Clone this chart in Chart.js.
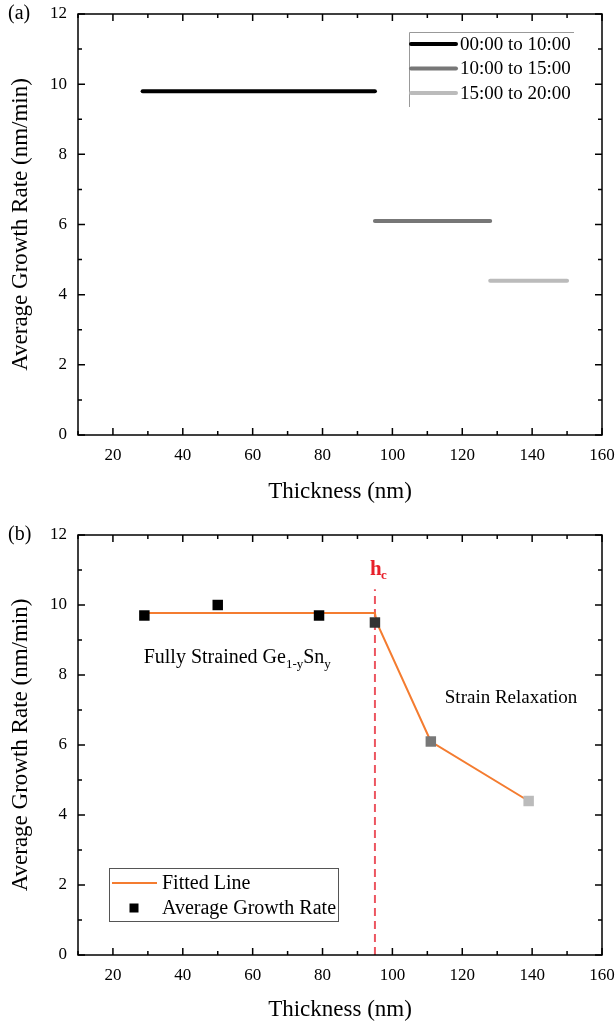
<!DOCTYPE html>
<html>
<head>
<meta charset="utf-8">
<script src="https://cdn.jsdelivr.net/npm/chart.js@4.4.1/dist/chart.umd.min.js"></script>
<style>
  html, body { margin: 0; padding: 0; background: #fff; }
  .panel { position: relative; width: 616px; height: 513px; }
</style>
</head>
<body>
<div class="panel"><canvas id="chartA" width="616" height="513"></canvas></div>
<div class="panel"><canvas id="chartB" width="616" height="513"></canvas></div>
<script>
// (a) growth periods: thickness range grown in each period and its rate
var periodLabels = ['00:00 to 10:00', '10:00 to 15:00', '15:00 to 20:00'];
var periodStart = [28.5, 95, 128];
var periodEnd = [95, 128, 150];
var periodRate = [9.8, 6.1, 4.4];
var periodColors = ['#000000', '#777777', '#bbbbbb'];

// (b) average growth rate vs thickness
var thickness = [29, 50, 79, 95, 111, 139];
var avgRate = [9.7, 10.0, 9.7, 9.5, 6.1, 4.4];
var pointColors = ['#000000', '#000000', '#000000', '#333333', '#777777', '#bbbbbb'];
var fitX = [29, 95, 95.5, 111, 139];
var fitY = [9.77, 9.77, 9.5, 6.1, 4.4];
var criticalThickness = 95;

// axis ticks
var xTickValues = [20, 40, 60, 80, 100, 120, 140, 160];
var xMinorValues = [10, 30, 50, 70, 90, 110, 130, 150];
var yTickValues = [0, 2, 4, 6, 8, 10, 12];
var yMinorValues = [1, 3, 5, 7, 9, 11];

var serif = "'Liberation Serif', 'Times New Roman', serif";
Chart.defaults.font.family = serif;
Chart.defaults.color = '#000';

function makeScales(xHeight) {
  return {
    x: {
      type: 'linear', min: 10, max: 160,
      afterBuildTicks: function(s) { s.ticks = xTickValues.map(function(v) { return {value: v}; }); },
      afterFit: function(s) { s.height = xHeight; s.paddingLeft = 0; s.paddingRight = 0; },
      grid: { display: false, drawTicks: false },
      border: { display: false },
      ticks: { font: { size: 17 }, padding: 10, maxRotation: 0 },
      title: { display: true, text: 'Thickness (nm)', font: { size: 23 }, padding: 0 }
    },
    y: {
      type: 'linear', min: 0, max: 12,
      afterBuildTicks: function(s) { s.ticks = yTickValues.map(function(v) { return {value: v}; }); },
      afterFit: function(s) { s.width = 71; s.paddingTop = 0; s.paddingBottom = 0; },
      grid: { display: false, drawTicks: false },
      border: { display: false },
      ticks: { font: { size: 17 }, padding: 11 },
      title: { display: true, text: 'Average Growth Rate (nm/min)', font: { size: 23 }, padding: 0 }
    }
  };
}

// frame with inward major/minor ticks on all four sides
var frameTicks = {
  id: 'frameTicks',
  afterDatasetsDraw: function(chart) {
    var ctx = chart.ctx, a = chart.chartArea, xs = chart.scales.x, ys = chart.scales.y;
    ctx.save();
    ctx.strokeStyle = '#000';
    ctx.lineWidth = 1.5;
    ctx.strokeRect(a.left, a.top, a.right - a.left, a.bottom - a.top);
    function xt(v, len) {
      var p = xs.getPixelForValue(v);
      ctx.beginPath();
      ctx.moveTo(p, a.bottom); ctx.lineTo(p, a.bottom - len);
      ctx.moveTo(p, a.top); ctx.lineTo(p, a.top + len);
      ctx.stroke();
    }
    function yt(v, len) {
      var p = ys.getPixelForValue(v);
      ctx.beginPath();
      ctx.moveTo(a.left, p); ctx.lineTo(a.left + len, p);
      ctx.moveTo(a.right, p); ctx.lineTo(a.right - len, p);
      ctx.stroke();
    }
    xTickValues.forEach(function(v) { xt(v, 7); });
    xMinorValues.forEach(function(v) { xt(v, 4); });
    yTickValues.forEach(function(v) { yt(v, 7); });
    yMinorValues.forEach(function(v) { yt(v, 4); });
    ctx.restore();
  }
};

function panelLabel(text) {
  return {
    id: 'panelLabel',
    afterDraw: function(chart) {
      var ctx = chart.ctx;
      ctx.save();
      ctx.font = '20px ' + serif;
      ctx.fillStyle = '#000';
      ctx.textBaseline = 'middle';
      ctx.fillText(text, 8, chart.chartArea.top);
      ctx.restore();
    }
  };
}

// ---------- panel (a) ----------
var legendA = {
  id: 'legendA',
  afterDraw: function(chart) {
    var ctx = chart.ctx;
    ctx.save();
    ctx.strokeStyle = '#999';
    ctx.lineWidth = 1;
    ctx.beginPath();
    ctx.moveTo(409.5, 107); ctx.lineTo(409.5, 32.5); ctx.lineTo(574, 32.5);
    ctx.stroke();
    ctx.font = '19px ' + serif;
    ctx.textBaseline = 'middle';
    chart.data.datasets.forEach(function(ds, i) {
      var y = 44 + i * 24.5;
      ctx.strokeStyle = ds.borderColor;
      ctx.lineWidth = 4;
      ctx.lineCap = 'round';
      ctx.beginPath(); ctx.moveTo(411, y); ctx.lineTo(456, y); ctx.stroke();
      ctx.fillStyle = '#000';
      ctx.fillText(ds.label, 460, y + 1);
    });
    ctx.restore();
  }
};

new Chart(document.getElementById('chartA'), {
  type: 'line',
  data: {
    datasets: periodLabels.map(function(lbl, i) {
      return {
        label: lbl,
        data: [{x: periodStart[i], y: periodRate[i]}, {x: periodEnd[i], y: periodRate[i]}],
        borderColor: periodColors[i],
        borderWidth: 4,
        borderCapStyle: 'round',
        pointRadius: 0,
        fill: false
      };
    })
  },
  options: {
    responsive: false,
    animation: false,
    devicePixelRatio: 1,
    layout: { autoPadding: false, padding: { left: 7, right: 14, top: 14, bottom: 7 } },
    plugins: { legend: { display: false }, tooltip: { enabled: false } },
    scales: makeScales(71)
  },
  plugins: [frameTicks, legendA, panelLabel('(a)')]
});

// ---------- panel (b) ----------
var annotB = {
  id: 'annotB',
  beforeDatasetsDraw: function(chart) {
    var ctx = chart.ctx, a = chart.chartArea, xs = chart.scales.x, ys = chart.scales.y;
    var px = xs.getPixelForValue(criticalThickness);
    ctx.save();
    ctx.strokeStyle = '#ec5560';
    ctx.lineWidth = 2;
    ctx.setLineDash([8, 5]);
    ctx.beginPath();
    ctx.moveTo(px, a.bottom); ctx.lineTo(px, ys.getPixelForValue(10.45));
    ctx.stroke();
    ctx.restore();
  },
  afterDraw: function(chart) {
    var ctx = chart.ctx, xs = chart.scales.x, ys = chart.scales.y;
    var px = xs.getPixelForValue(criticalThickness);
    ctx.save();
    ctx.textBaseline = 'alphabetic';
    // h_c label
    ctx.fillStyle = '#e8202a';
    ctx.font = 'bold 21px ' + serif;
    var hy = ys.getPixelForValue(10.85);
    ctx.fillText('h', px - 5, hy);
    ctx.font = 'bold 13px ' + serif;
    ctx.fillText('c', px + 6, hy + 4);
    // region labels
    ctx.fillStyle = '#000';
    ctx.font = '20px ' + serif;
    var ty = ys.getPixelForValue(8.35);
    var x0 = xs.getPixelForValue(28.8);
    var s1 = 'Fully Strained Ge';
    ctx.fillText(s1, x0, ty);
    var w = ctx.measureText(s1).width;
    ctx.font = '13px ' + serif;
    ctx.fillText('1-y', x0 + w, ty + 5);
    w += ctx.measureText('1-y').width;
    ctx.font = '20px ' + serif;
    ctx.fillText('Sn', x0 + w, ty);
    w += ctx.measureText('Sn').width;
    ctx.font = '13px ' + serif;
    ctx.fillText('y', x0 + w, ty + 5);
    ctx.font = '19px ' + serif;
    ctx.fillText('Strain Relaxation', xs.getPixelForValue(115), ys.getPixelForValue(7.2));
    // legend box
    ctx.strokeStyle = '#555';
    ctx.lineWidth = 1;
    ctx.strokeRect(109.5, 868.5 - 513, 229, 53);
    ctx.textBaseline = 'middle';
    ctx.font = '20px ' + serif;
    var fit = chart.data.datasets[0], pts = chart.data.datasets[1];
    ctx.strokeStyle = fit.borderColor;
    ctx.lineWidth = 2;
    ctx.beginPath(); ctx.moveTo(112, 883 - 513); ctx.lineTo(157, 883 - 513); ctx.stroke();
    ctx.fillStyle = '#000';
    ctx.fillText(fit.label, 162, 884 - 513);
    ctx.fillRect(129.5, 908 - 513 - 4.5, 9, 9);
    ctx.fillText(pts.label, 162, 909 - 513);
    ctx.restore();
  }
};

new Chart(document.getElementById('chartB'), {
  data: {
    datasets: [
      {
        type: 'line',
        label: 'Fitted Line',
        data: fitX.map(function(x, i) { return {x: x, y: fitY[i]}; }),
        borderColor: '#f47c30',
        borderWidth: 2,
        pointRadius: 0,
        tension: 0,
        fill: false,
        order: 2
      },
      {
        type: 'scatter',
        label: 'Average Growth Rate',
        data: thickness.map(function(x, i) { return {x: x, y: avgRate[i]}; }),
        pointStyle: 'rect',
        pointRadius: 7.4,
        pointBackgroundColor: pointColors,
        pointBorderColor: pointColors,
        pointBorderWidth: 0,
        order: 1
      }
    ]
  },
  options: {
    responsive: false,
    animation: false,
    devicePixelRatio: 1,
    layout: { autoPadding: false, padding: { left: 7, right: 14, top: 22, bottom: 2 } },
    plugins: { legend: { display: false }, tooltip: { enabled: false } },
    scales: makeScales(69)
  },
  plugins: [frameTicks, annotB, panelLabel('(b)')]
});
</script>
</body>
</html>
